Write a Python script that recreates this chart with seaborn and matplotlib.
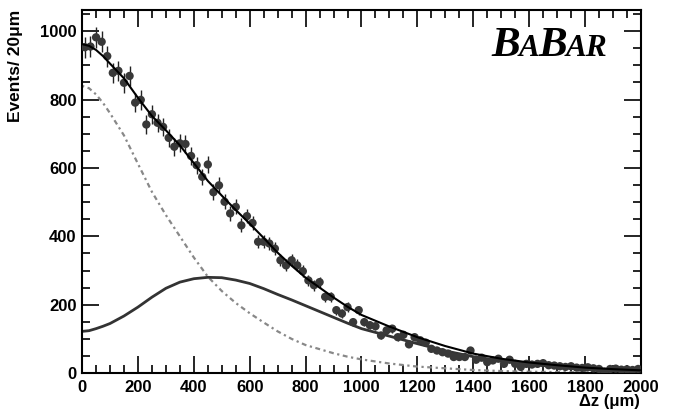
import numpy as np
import pandas as pd
import seaborn as sns
import matplotlib.pyplot as plt
from matplotlib.ticker import MultipleLocator

# Delta z distribution, 20 um bins (bin centres 10 ... 1990)
bin_centers = list(range(10, 2000, 20))
counts = [953, 955, 982, 969, 927, 878, 884, 849, 869, 791,
          799, 727, 757, 732, 720, 688, 662, 672, 670, 635,
          608, 574, 610, 529, 549, 501, 467, 486, 432, 459,
          439, 384, 384, 379, 364, 330, 315, 330, 315, 298,
          271, 257, 266, 223, 223, 184, 174, 193, 149, 184,
          149, 140, 137, 110, 125, 130, 105, 112, 84, 105,
          96, 89, 71, 66, 61, 57, 47, 47, 47, 66,
          39, 45, 32, 37, 42, 27, 39, 27, 18, 27,
          25, 27, 29, 23, 22, 20, 18, 20, 16, 15,
          17, 14, 12, 4, 12, 13, 10, 11, 9, 12]

# fit components
curve_x = [0, 25, 50, 75, 100, 150, 200, 250, 300, 350, 400, 450,
           500, 550, 600, 650, 700, 750, 800, 850, 900, 950,
           1000, 1100, 1200, 1300, 1400, 1500, 1600, 1700, 1800, 1900, 2000]
narrow = [840, 833, 815, 790, 760, 695, 612, 530, 462, 400, 338, 282,
          240, 205, 175, 148, 122, 100, 82, 70, 58, 48,
          40, 28, 19, 14, 9, 6, 4, 3, 2, 1.5, 1]
wide = [122, 124, 130, 137, 145, 167, 193, 222, 248, 266, 276, 280,
        279, 272, 262, 247, 230, 214, 197, 180, 163, 146,
        130, 108, 86, 65, 48, 36, 27, 20, 14, 10, 7]

df = pd.DataFrame({"dz": bin_centers, "n": counts})
df["err"] = np.sqrt(df["n"])
fit = pd.DataFrame({"dz": curve_x, "narrow": narrow, "wide": wide})
fit["total"] = fit["narrow"] + fit["wide"]

sns.set_style("ticks")
plt.rcParams["font.family"] = ["Liberation Sans", "DejaVu Sans"]
plt.rcParams["font.weight"] = "bold"
plt.rcParams["text.color"] = "black"
plt.rcParams["xtick.color"] = "black"
plt.rcParams["ytick.color"] = "black"

fig = plt.figure(figsize=(6.84, 4.15), dpi=100)
ax = fig.add_axes([0.12, 0.101, 0.817, 0.875])

sns.lineplot(data=fit, x="dz", y="narrow", ax=ax, color="#888888", lw=1.6,
             linestyle=(0, (1, 1.6, 2.2, 1.6)))
sns.lineplot(data=fit, x="dz", y="wide", ax=ax, color="#333333", lw=2.0)
ax.errorbar(df["dz"], df["n"], yerr=df["err"], fmt="none", ecolor="#222222",
            elinewidth=1.0, capsize=0, zorder=3)
sns.scatterplot(data=df, x="dz", y="n", ax=ax, color="#383838", s=36,
                edgecolor="none", zorder=4)
sns.lineplot(data=fit, x="dz", y="total", ax=ax, color="black", lw=1.5, zorder=5)

ax.set_xlim(0, 2000)
ax.set_ylim(0, 1062)
ax.xaxis.set_major_locator(MultipleLocator(200))
ax.xaxis.set_minor_locator(MultipleLocator(50))
ax.yaxis.set_major_locator(MultipleLocator(200))
ax.yaxis.set_minor_locator(MultipleLocator(50))
ax.tick_params(which="both", direction="in", top=True, right=True,
               width=1.2, colors="black", labelcolor="black", labelsize=12)
ax.tick_params(which="major", length=12)
ax.tick_params(which="minor", length=6)
ax.tick_params(axis="x", pad=5)
ax.tick_params(axis="y", pad=4)
for lab in ax.get_xticklabels() + ax.get_yticklabels():
    lab.set_fontweight("bold")
for sp in ax.spines.values():
    sp.set_linewidth(1.5)
    sp.set_color("black")

ax.set_xlabel("")
ax.set_ylabel("")
fig.text(0.936, 0.015, "\u0394z (\u03bcm)", ha="right", va="bottom",
         fontsize=12, fontweight="bold", color="black")
fig.text(0.012, 0.976, "Events/ 20\u03bcm", ha="left", va="top", rotation=90,
         fontsize=12.5, fontweight="bold", color="black")

# BABAR logo with small caps, letters placed one after another on one baseline
logo = dict(family="Liberation Serif", style="italic", weight="bold", color="black")
fig.canvas.draw()
renderer = fig.canvas.get_renderer()
x0, base = 491, 415 - 56  # pixels from lower left
for piece, size in [("B", 31), ("A", 22.5), ("B", 31), ("AR", 22.5)]:
    t = fig.text(x0 / 684, base / 415, piece, fontsize=size, va="baseline",
                 ha="left", **logo)
    bb = t.get_window_extent(renderer)
    x0 = bb.x1 - 1

fig.savefig("out.png", dpi=100)
